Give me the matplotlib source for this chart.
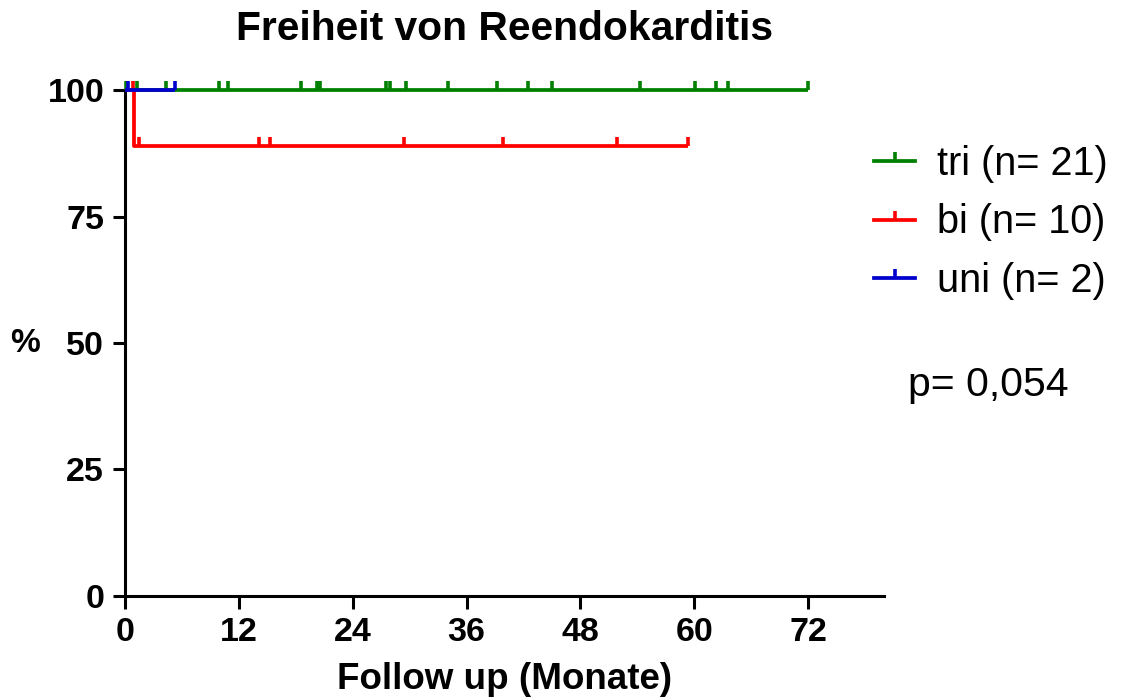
"""Kaplan-Meier: Freiheit von Reendokarditis nach Klappenbeteiligung (tri / bi / uni)."""
import matplotlib
matplotlib.use("Agg")
import matplotlib.pyplot as plt
from matplotlib.lines import Line2D
import numpy as np

# ---- KM step curves (time in months, survival in %) ----
TRI_T = [0.0, 72.0]
TRI_S = [100.0, 100.0]
BI_T = [0.0, 1.0, 59.3]
BI_S = [100.0, 88.9, 88.9]
UNI_T = [0.0, 5.3]
UNI_S = [100.0, 100.0]

# censored observations (months)
TRI_CENS = [0.1, 1.25, 4.3, 9.9, 10.9, 18.5, 20.2, 20.6, 27.5, 27.9, 29.6,
            34.0, 39.2, 42.5, 45.0, 54.3, 60.1, 62.3, 63.5, 72.0]
BI_CENS = [0.8, 1.5, 14.1, 15.3, 29.4, 39.8, 51.9, 59.3]
UNI_CENS = [0.3, 5.3]

LABELS = ["tri (n= 21)", "bi (n= 10)", "uni (n= 2)"]
COLORS = ["#008000", "#FF0000", "#0000CC"]
P_TEXT = "p= 0,054"

XTICKS = [0, 12, 24, 36, 48, 60, 72]
YTICKS = [0, 25, 50, 75, 100]

plt.rcParams.update({
    "font.family": ["Liberation Sans", "DejaVu Sans"],
    "axes.linewidth": 2.2,
})

LW = 2.7
CENSOR = [(0, 0), (0, 1)]  # upward censor tick
TICK = dict(marker=CENSOR, ms=13, mew=2.6)


def level_at(ts, ss, t):
    idx = np.searchsorted(ts, t, side="right") - 1
    return ss[max(idx, 0)]


fig = plt.figure(figsize=(11.22, 7.0), dpi=100)
ax = fig.add_axes([0.1114, 0.1486, 0.788 - 0.1114, 0.8714 - 0.1486])

groups = [(TRI_T, TRI_S, TRI_CENS), (BI_T, BI_S, BI_CENS), (UNI_T, UNI_S, UNI_CENS)]
for i, ((ts, ss, cens), col) in enumerate(zip(groups, COLORS)):
    ax.step(ts, ss, where="post", color=col, lw=LW, zorder=3 + i,
            clip_on=False, solid_capstyle="butt")
    cy = [level_at(ts, ss, c) for c in cens]
    ax.plot(cens, cy, ls="none", mec=col, zorder=3 + i, clip_on=False, **TICK)

ax.set_xlim(0, 80)
ax.set_ylim(0, 100)
ax.set_xticks(XTICKS)
ax.set_yticks(YTICKS)
ax.tick_params(direction="out", length=9, width=2.2, labelsize=24.5, pad=6)
for t in ax.get_xticklabels() + ax.get_yticklabels():
    t.set_fontweight("bold")
ax.spines["top"].set_visible(False)
ax.spines["right"].set_visible(False)
ax.spines["left"].set_bounds(0, 100)

ax.set_title("Freiheit von Reendokarditis", fontsize=29.3, fontweight="bold", pad=36)
ax.set_xlabel("Follow up (Monate)", fontsize=26.5, fontweight="bold", labelpad=10)
fig.text(25 / 1122, 1 - 343 / 700, "%", fontsize=24, fontweight="bold",
         ha="center", va="center")

# legend: short line with the censor tick in the middle
handles = [Line2D([0, 0.5, 1], [0, 0, 0], color=c, lw=LW, markevery=[1],
                  mec=c, **TICK) for c in COLORS]
fig.legend(handles, LABELS, loc="upper left",
           bbox_to_anchor=(858 / 1122, 1 - 129 / 700),
           frameon=False, fontsize=28.5, handlelength=1.05, handletextpad=0.55,
           labelspacing=0.52, borderaxespad=0)

fig.text(908 / 1122, 1 - 385 / 700, P_TEXT, fontsize=29.5, ha="left", va="center")

fig.savefig("out.png", dpi=100)
